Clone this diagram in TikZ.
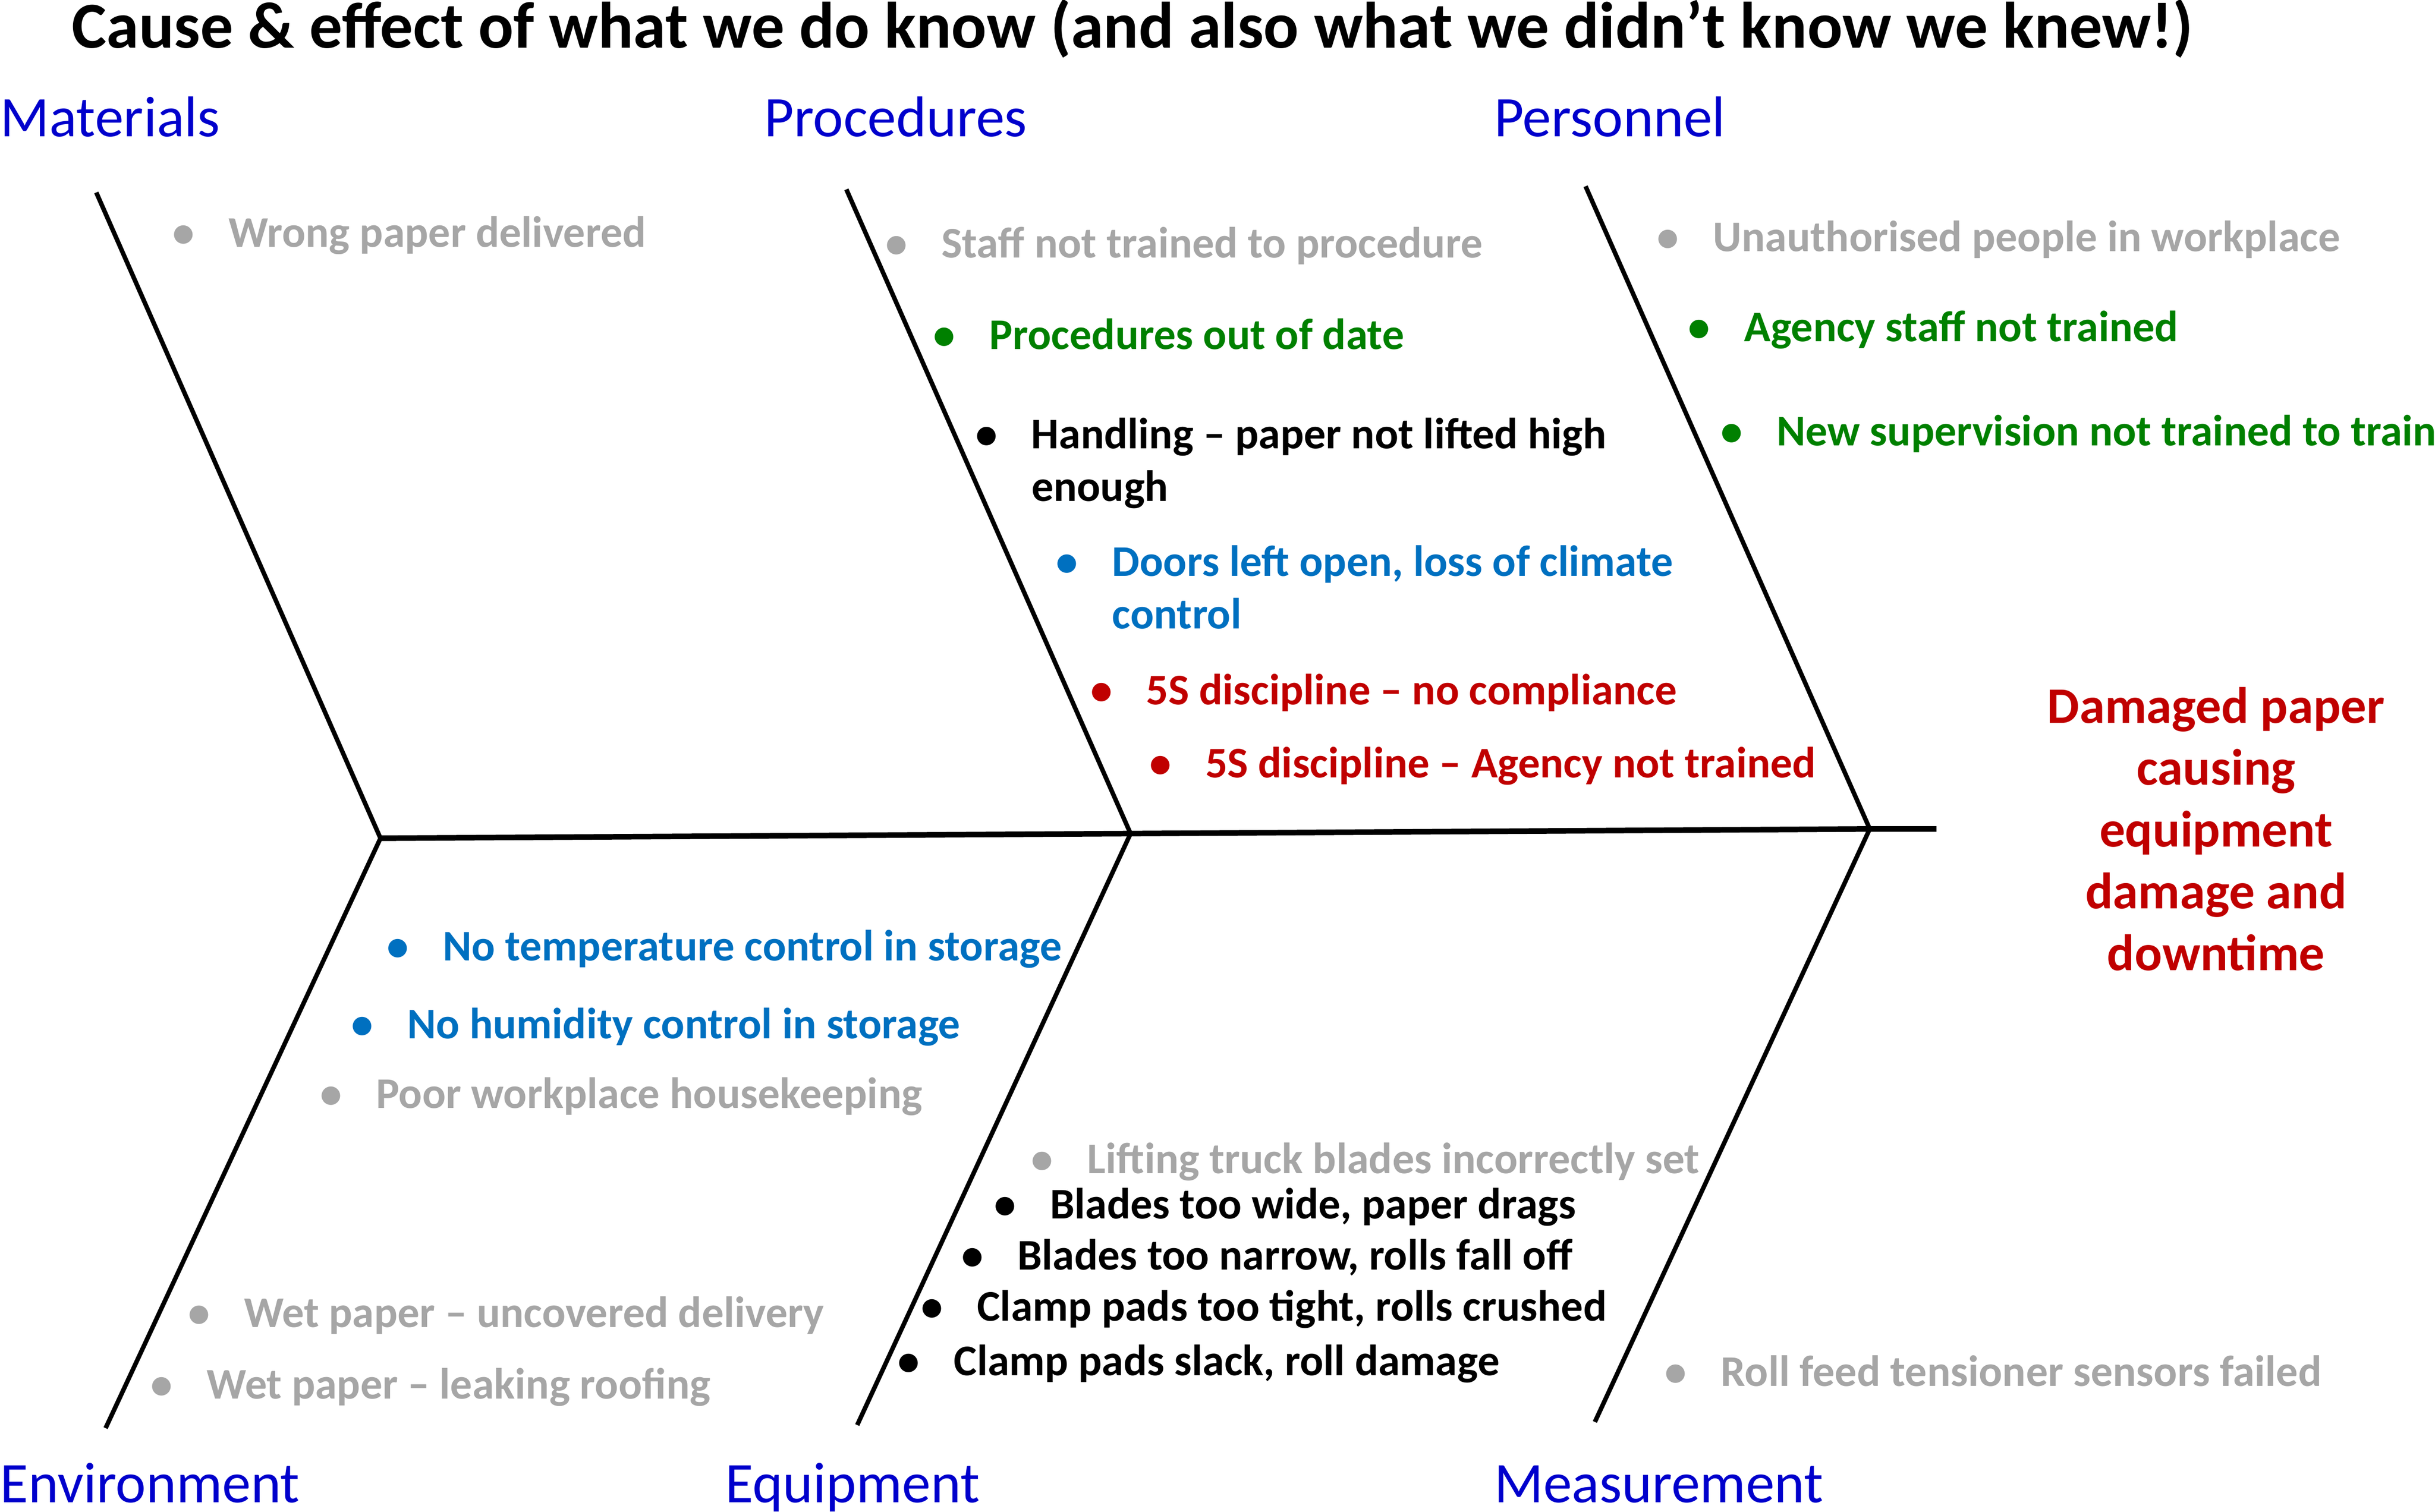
\documentclass[tikz,border=0pt]{standalone}
\usepackage{fontspec}
\setmainfont{Carlito}
\definecolor{catblue}{HTML}{0000CC}
\definecolor{itgray}{HTML}{A6A6A6}
\definecolor{itgreen}{HTML}{008000}
\definecolor{itblue}{HTML}{0070C0}
\definecolor{itred}{HTML}{C00000}
\newcommand{\bul}{\llap{\textbullet\hspace{22pt}}}
\begin{document}
\begin{tikzpicture}[x=1pt,y=-1pt,
  bone/.style={line width=2.9pt},
  spine/.style={line width=3.6pt},
  item/.style={anchor=base west, inner sep=0pt, align=left,
    font=\fontsize{28.2}{34}\selectfont\bfseries},
  cat/.style={anchor=base west, inner sep=0pt, text=catblue,
    font=\fontsize{37}{44}\selectfont},
  title/.style={anchor=base, inner sep=0pt, font=\fontsize{42.3}{50}\selectfont\bfseries},
  effect/.style={anchor=base, inner sep=0pt, align=center, text=itred,
    font=\fontsize{33}{39.8}\selectfont\bfseries}]
\useasboundingbox (0,0) rectangle (1568,974);

% skeleton coordinates
\coordinate (J1) at (245,540);
\coordinate (J2) at (728,537);
\coordinate (J3) at (1204,534);
\coordinate (E) at (1247,534);
\coordinate (Mt) at (62,124);
\coordinate (Pt) at (545,122);
\coordinate (Pe) at (1021,120);
\coordinate (En) at (68,920);
\coordinate (Eq) at (552,918);
\coordinate (Me) at (1027,916);

\draw[spine] (J1) -- (J2) -- (J3) -- (E);
\draw[bone] (Mt) -- (J1) -- (En);
\draw[bone] (Pt) -- (J2) -- (Eq);
\draw[bone] (Pe) -- (J3) -- (Me);

% title
\node[title] (title) at (729,31) {Cause \& effect of what we do know (and also what we didn’t know we knew!)};

% categories
\node[cat] (materials) at (0,88) {Materials};
\node[cat] (procedures) at (492,88) {Procedures};
\node[cat] (personnel) at (962,88) {Personnel};
\node[cat] (environment) at (0,968) {Environment};
\node[cat] (equipment) at (467,968) {Equipment};
\node[cat] (measurement) at (962,968) {Measurement};

% effect (base anchor = last line)
\node[effect] (effect) at (1427,625) {Damaged paper\\causing\\equipment\\damage and\\downtime};

% materials
\node[item,text=itgray] (m1) at (147,159) {\bul Wrong paper delivered};

% procedures
\node[item,text=itgray] (p1) at (606,166) {\bul Staff not trained to procedure};
\node[item,text=itgreen] (p2) at (637,225) {\bul Procedures out of date};
\node[item,text=black] (p3) at (664,323) {\bul Handling – paper not lifted high\\enough};
\node[item,text=itblue] (p4) at (716,405) {\bul Doors left open, loss of climate\\control};
\node[item,text=itred] (p5) at (738,454) {\bul 5S discipline – no compliance};
\node[item,text=itred] (p6) at (776,501) {\bul 5S discipline – Agency not trained};

% personnel
\node[item,text=itgray] (r1) at (1103,162) {\bul Unauthorised people in workplace};
\node[item,text=itgreen] (r2) at (1123,220) {\bul Agency staff not trained};
\node[item,text=itgreen] (r3) at (1144,287) {\bul New supervision not trained to train};

% environment
\node[item,text=itblue] (e1) at (285,619) {\bul No temperature control in storage};
\node[item,text=itblue] (e2) at (262,669) {\bul No humidity control in storage};
\node[item,text=itgray] (e3) at (242,714) {\bul Poor workplace housekeeping};
\node[item,text=itgray] (e4) at (157,855) {\bul Wet paper – uncovered delivery};
\node[item,text=itgray] (e5) at (133,901) {\bul Wet paper – leaking roofing};

% equipment
\node[item,text=itgray] (q1) at (700,756) {\bul Lifting truck blades incorrectly set};
\node[item,text=black] (q2) at (676,785) {\bul Blades too wide, paper drags};
\node[item,text=black] (q3) at (655,818) {\bul Blades too narrow, rolls fall off};
\node[item,text=black] (q4) at (629,851) {\bul Clamp pads too tight, rolls crushed};
\node[item,text=black] (q5) at (614,886) {\bul Clamp pads slack, roll damage};

% measurement
\node[item,text=itgray] (s1) at (1108,893) {\bul Roll feed tensioner sensors failed};
\end{tikzpicture}
\end{document}
